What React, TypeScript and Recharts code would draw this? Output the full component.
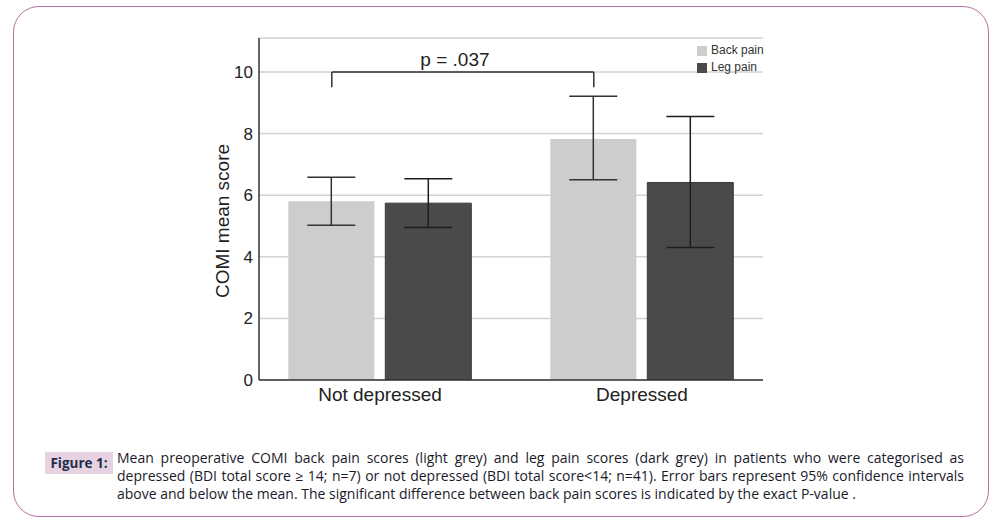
import React from 'react';
import {
  BarChart, Bar, XAxis, YAxis, CartesianGrid, ErrorBar, ReferenceLine, ReferenceDot,
} from 'recharts';

const categories = ['Not depressed', 'Depressed'];
const backPainMean = [5.8, 7.82];
const backPainCI = [[5.02, 6.58], [6.5, 9.21]];
const legPainMean = [5.74, 6.41];
const legPainCI = [[4.95, 6.53], [4.3, 8.55]];
const yTicks = [0, 2, 4, 6, 8, 10];
const seriesNames = ['Back pain', 'Leg pain'];
// significance bracket, as fractions of the category axis on a hidden numeric axis
const bracketX = [0.158, 0.658];
const bracketY = 10;
const bracketLegY = 9.5;
const bracketLabel = 'p = .037';
const bracketLabelX = 0.393;

const data = categories.map((c, i) => ({
  name: c,
  back: backPainMean[i],
  backErr: [backPainMean[i] - backPainCI[i][0], backPainCI[i][1] - backPainMean[i]],
  leg: legPainMean[i],
  legErr: [legPainMean[i] - legPainCI[i][0], legPainCI[i][1] - legPainMean[i]],
}));

const BACK = '#cdcdcd';
const LEG = '#4a4a4a';
const FONT = 'Liberation Sans, Arial, sans-serif';

const captionLines = [
  'Mean preoperative COMI back pain scores (light grey) and leg pain scores (dark grey) in patients who were categorised as',
  'depressed (BDI total score \u2265 14; n=7) or not depressed (BDI total score<14; n=41). Error bars represent 95% confidence intervals',
  'above and below the mean. The significant difference between back pain scores is indicated by the exact P-value .',
];

const YLabel = (props: any) => {
  const vb = props.viewBox || {};
  const cx = vb.x + 23;
  const cy = vb.y + vb.height / 2 + 12;
  return (
    <text x={cx} y={cy} transform={`rotate(-90 ${cx} ${cy})`} textAnchor="middle" dominantBaseline="central"
      fontSize={19} fill="#222" fontFamily={FONT}>COMI mean score</text>
  );
};

export default function App() {
  return (
    <div style={{ position: 'absolute', left: 0, top: 0, width: 1000, height: 532, background: '#fff', overflow: 'hidden' }}>
      <div style={{
        position: 'absolute', left: 13, top: 6, width: 976, height: 511,
        border: '1.5px solid #b5739f', borderRadius: 26, boxSizing: 'border-box',
      }} />
      <div style={{ position: 'absolute', left: 0, top: 0 }}>
        <BarChart
          width={1000}
          height={420}
          data={data}
          margin={{ top: 38, right: 237, left: 199, bottom: 0 }}
          barCategoryGap="15%"
          barGap="4.2%"
        >
          <CartesianGrid vertical={false} stroke="#d2d2d2" strokeWidth={1.5} />
          <XAxis
            dataKey="name"
            height={40}
            padding={{ left: -10, right: -10 }}
            axisLine={{ stroke: '#333', strokeWidth: 1.5 }}
            tickLine={false}
            tickMargin={2}
            tick={{ fontSize: 19, fill: '#222', fontFamily: FONT }}
          />
          <XAxis xAxisId="num" type="number" hide domain={[0, 1]} allowDataOverflow padding={{ left: -10, right: -10 }} />
          <YAxis
            width={60}
            domain={[0, 11.1]}
            ticks={yTicks}
            allowDataOverflow
            axisLine={{ stroke: '#333', strokeWidth: 1.5 }}
            tickLine={false}
            tickSize={3}
            tickMargin={3}
            tick={{ fontSize: 17, fill: '#222', fontFamily: FONT }}
            label={<YLabel />}
          />
          <Bar dataKey="back" name={seriesNames[0]} fill={BACK} isAnimationActive={false}>
            <ErrorBar dataKey="backErr" width={24} stroke="#333" strokeWidth={1.5} isAnimationActive={false} />
          </Bar>
          <Bar dataKey="leg" name={seriesNames[1]} fill={LEG} stroke="#3a3a3a" isAnimationActive={false}>
            <ErrorBar dataKey="legErr" width={24} stroke="#1e1e1e" strokeWidth={1.5} isAnimationActive={false} />
          </Bar>
          <ReferenceLine xAxisId="num" segment={[{ x: bracketX[0], y: bracketY }, { x: bracketX[1], y: bracketY }]} stroke="#333" strokeWidth={1.5} ifOverflow="visible" />
          <ReferenceLine xAxisId="num" segment={[{ x: bracketX[0], y: bracketY }, { x: bracketX[0], y: bracketLegY }]} stroke="#333" strokeWidth={1.5} ifOverflow="visible" />
          <ReferenceLine xAxisId="num" segment={[{ x: bracketX[1], y: bracketY }, { x: bracketX[1], y: bracketLegY }]} stroke="#333" strokeWidth={1.5} ifOverflow="visible" />
          <ReferenceDot
            xAxisId="num" x={bracketLabelX} y={bracketY} r={0} stroke="none" fill="none" ifOverflow="visible"
            label={{ value: bracketLabel, position: 'top', offset: 6, fontSize: 19, fill: '#222', fontFamily: FONT }}
          />
        </BarChart>
      </div>
      <div style={{ position: 'absolute', left: 697, top: 42, fontFamily: FONT, fontSize: 12, color: '#333', lineHeight: '17px' }}>
        {[BACK, LEG].map((c, i) => (
          <div key={i} style={{ display: 'flex', alignItems: 'center' }}>
            <span style={{ display: 'inline-block', width: 10, height: 10, background: c, marginRight: 4 }} />
            <span>{seriesNames[i]}</span>
          </div>
        ))}
      </div>
      <div style={{
        position: 'absolute', left: 45, top: 452, width: 68, height: 22, background: '#e6d2e0',
        fontFamily: 'Open Sans, sans-serif', fontWeight: 'bold', fontSize: 13.5,
        color: '#1f2d4d', lineHeight: '22px', textAlign: 'center',
      }}>Figure 1:</div>
      <div style={{
        position: 'absolute', left: 117, top: 449, width: 847,
        fontFamily: 'Open Sans, sans-serif', fontSize: 14, color: '#1a1a2a', lineHeight: '18px',
      }}>
        {captionLines.map((l, i) => (
          <div key={i} style={{ textAlign: i < 2 ? 'justify' : 'left', textAlignLast: i < 2 ? 'justify' : 'left', whiteSpace: 'nowrap' }}>{l}</div>
        ))}
      </div>
    </div>
  );
}
